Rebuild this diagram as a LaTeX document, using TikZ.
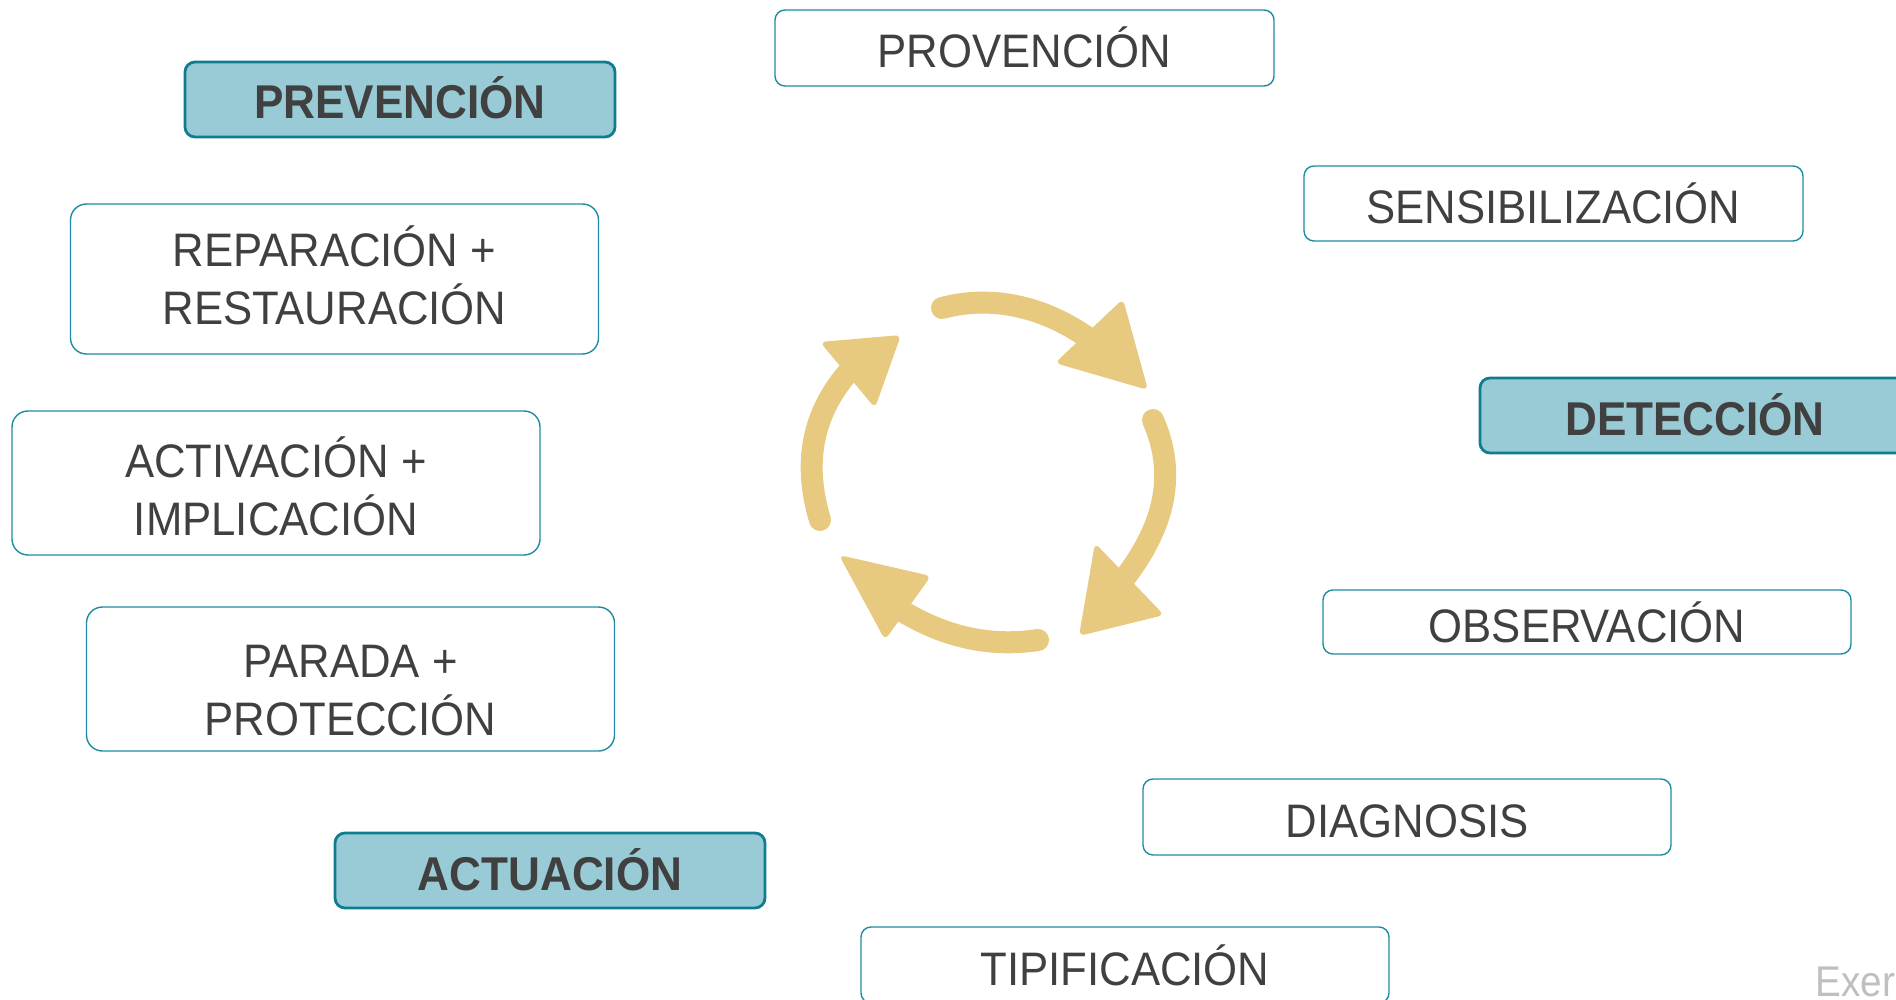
\documentclass[tikz,border=0pt]{standalone}
\usepackage{fontspec}
\setmainfont{Liberation Sans}[FakeStretch=0.93]
\newfontfamily\markfont{Liberation Sans}[FakeStretch=0.9]
\usetikzlibrary{positioning}
\definecolor{tealLine}{RGB}{30,140,160}
\definecolor{tealDark}{RGB}{16,124,146}
\definecolor{tealFill}{RGB}{152,203,213}
\definecolor{inkGray}{RGB}{64,64,64}
\definecolor{goldArrow}{RGB}{231,201,128}

\begin{document}
\begin{tikzpicture}[x=.5pt,y=-.5pt,text centered,line width=.8pt]
\tikzset{phase/.style={draw=tealDark,line width=1.4pt,fill=tealFill,rounded corners=5pt,
  minimum width=215pt,minimum height=37.5pt,text=inkGray,text height=19.5pt,text depth=0pt,
  font=\fontsize{23.7}{29}\selectfont\bfseries}}
\tikzset{entry/.style={draw=tealLine,line width=.7pt,rounded corners=5pt,
  minimum width=264pt,align=center,text=inkGray,text height=20pt,text depth=0pt,
  font=\fontsize{23.5}{29}\selectfont}}
\tikzset{twoline/.style={entry,rounded corners=8pt,minimum height=72pt}}
\tikzset{swirl/.style={draw=goldArrow,line width=11pt,line cap=round}}
\tikzset{swirltip/.style={fill=goldArrow,rounded corners=3pt}}
\clip (0,0) rectangle (1896,1000);
\useasboundingbox (0,0) rectangle (1896,1000);

% the three phases
\node[phase] (prev) at (400,99.5) {PREVENCIÓN};
\node[phase] (det) at (1695,415.5) {DETECCIÓN};
\node[phase] (act) at (550,870.5) {ACTUACIÓN};

% steps
\node[entry,minimum width=249.5pt,minimum height=38pt] (prov) at (1024.5,48) {PROVENCIÓN};
\node[entry,minimum width=249.5pt,minimum height=37.5pt] (sens) at (1553.5,203.5) {SENSIBILIZACIÓN};
\node[entry,minimum height=32pt] (obs) at (1587,622) {OBSERVACIÓN};
\node[entry,minimum height=38pt] (diag) at (1407,817) {DIAGNOSIS};
\node[entry,minimum height=38pt] (tipif) at (1125,965) {TIPIFICACIÓN};
\node[twoline,minimum height=75pt,text height=45.8pt] (repar) at (334.5,279) {REPARACIÓN +\\RESTAURACIÓN};
\node[twoline,text height=52.8pt] (activ) at (276,483) {ACTIVACIÓN +\\IMPLICACIÓN};
\node[twoline,text height=56.8pt] (parada) at (350.5,679) {PARADA +\\PROTECCIÓN};

% cycle in the middle
\draw[swirl] (942,308) .. controls (990,295) and (1045,305) .. (1095,343);
\fill[swirltip] (1123,299) -- (1148,390) -- (1055,363) -- cycle;
\draw[swirl] (1153,420) .. controls (1175,470) and (1170,525) .. (1115,590);
\fill[swirltip] (1095,543) -- (1164,615) -- (1079,636) -- cycle;
\draw[swirl] (1038,640) .. controls (985,648) and (935,635) .. (885,600);
\fill[swirltip] (839,555) -- (931,576) -- (885,640) -- cycle;
\draw[swirl] (820,520) .. controls (805,470) and (805,410) .. (865,355);
\fill[swirltip] (820,342) -- (901,335) -- (875,408) -- cycle;

\node[anchor=base west,inner sep=0pt,text=gray!50,font=\markfont\fontsize{21.5}{21.5}\selectfont] (mark) at (1815,996) {Exer};
\end{tikzpicture}
\end{document}
